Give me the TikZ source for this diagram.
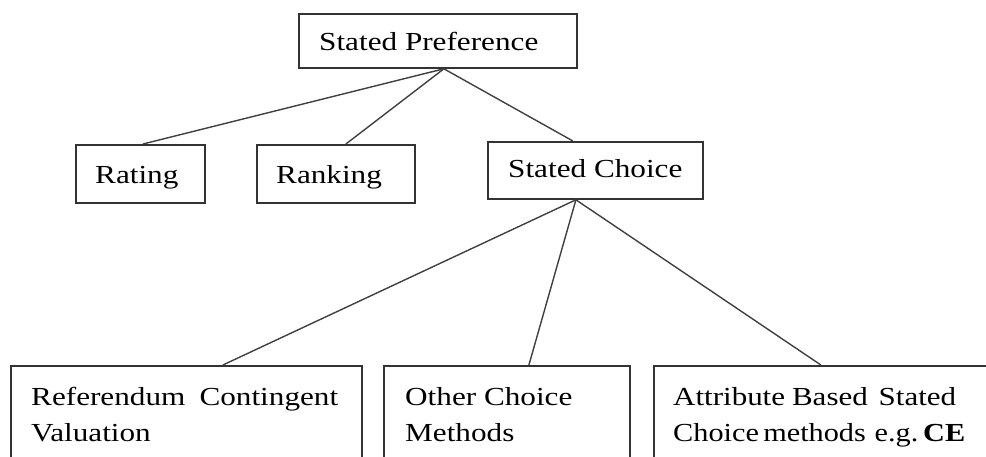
\documentclass[tikz,border=0pt]{standalone}
\usepackage{graphicx}
\usepackage{fontspec}
\setmainfont[FakeStretch=1.2]{Liberation Serif}
\begin{document}
\begin{tikzpicture}[x=1pt,y=1pt,
  box/.style={draw=black!80, line width=1.8pt, rectangle, inner sep=0pt, anchor=north west},
  lbl/.style={anchor=base west, inner sep=0pt, font=\fontsize{26}{36}\selectfont, text=black},
  conn/.style={draw=black!75, line width=1.4pt}]
\useasboundingbox (0,0) rectangle (986,-456);
% boxes
\node[box, minimum width=278pt, minimum height=54pt] (sp) at (298,-13) {};
\node[box, minimum width=129pt, minimum height=58pt] (rat) at (75,-144) {};
\node[box, minimum width=158pt, minimum height=58pt] (rank) at (256,-144) {};
\node[box, minimum width=215pt, minimum height=57pt] (sc) at (487,-141) {};
\node[box, minimum width=351pt, minimum height=110pt] (ref) at (10,-365) {};
\node[box, minimum width=246pt, minimum height=110pt] (oth) at (383,-365) {};
\node[box, minimum width=350pt, minimum height=110pt] (att) at (653,-365) {};
% labels
\node[lbl] (tsp) at (319,-50) {Stated Preference};
\node[lbl] (trat) at (95,-183) {Rating};
\node[lbl] (trank) at (276,-183) {Ranking};
\node[lbl] (tsc) at (508,-177) {Stated Choice};
\node[lbl] (tref1) at (31,-405) {\makebox[307pt][s]{Referendum Contingent}};
\node[lbl] (tref2) at (31,-441) {Valuation};
\node[lbl] (toth1) at (405,-405) {Other Choice};
\node[lbl] (toth2) at (405,-441) {Methods};
\node[lbl] (tatt1) at (673,-405) {\resizebox{283pt}{\height}{Attribute\hspace{7pt}Based\hspace{11pt}Stated}};
\node[lbl] (tatt2) at (673,-441) {\resizebox{292pt}{\height}{Choice\hspace{4.5pt}methods\hspace{9pt}e.g.\hspace{5pt}\textbf{CE}}};
% connectors
\coordinate (j1) at ([xshift=6pt]sp.south);
\coordinate (j2) at ([xshift=-19.5pt]sc.south);
\draw[conn] (j1) -- ([xshift=2.5pt]rat.north);
\draw[conn] (j1) -- ([xshift=10pt]rank.north);
\draw[conn] (j1) -- ([xshift=-22.5pt]sc.north);
\draw[conn] (j2) -- ([xshift=36.5pt]ref.north);
\draw[conn] (j2) -- ([xshift=22pt]oth.north);
\draw[conn] (j2) -- ([xshift=-8pt]att.north);
\end{tikzpicture}
\end{document}
